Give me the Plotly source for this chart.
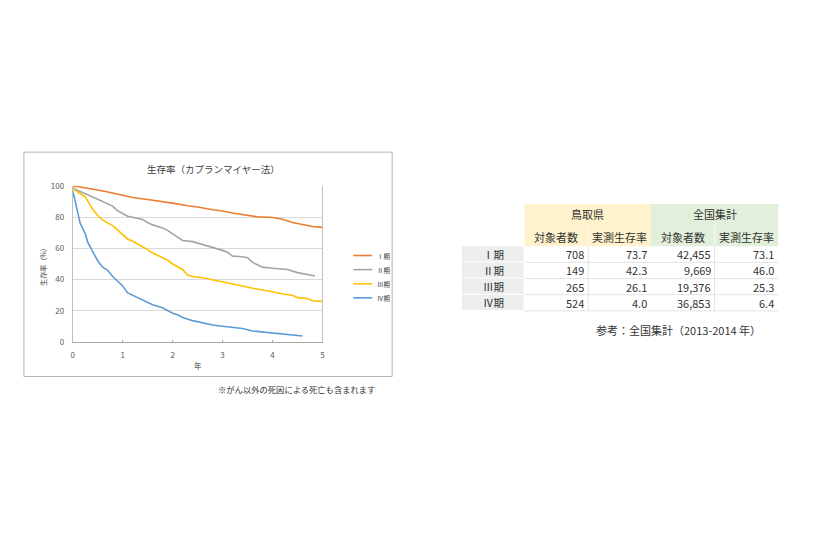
import plotly.graph_objects as go

JP = "Noto Sans CJK JP"
W, H = 830, 545
OFF = 8  # page body margin

# survival curves (years, %)
years_1 = [0, 0.2, 0.5, 0.8, 1.0, 1.2, 1.5, 1.8, 2.0, 2.3, 2.5, 2.8, 3.0, 3.2, 3.5, 3.7, 4.0, 4.2, 4.4, 4.6, 4.8, 5.0]
surv_1 = [100, 99, 97.3, 95.4, 94.1, 92.5, 91.2, 89.9, 88.9, 87.2, 86.4, 84.7, 83.9, 82.6, 81.3, 80.1, 79.7, 78.6, 76.5, 75.1, 74.0, 73.4]

years_2 = [0, 0.1, 0.3, 0.4, 0.5, 0.6, 0.8, 0.9, 1.0, 1.1, 1.2, 1.4, 1.5, 1.6, 1.8, 1.9, 2.0, 2.1, 2.2,
           2.4, 2.6, 2.8, 3.0, 3.1, 3.2, 3.4, 3.5, 3.6, 3.7, 3.8, 4.0, 4.2, 4.3, 4.5, 4.7, 4.85]
surv_2 = [99, 97, 94.3, 93, 91.2, 90, 87, 84, 82.3, 80.5, 79.9, 78.4, 76.5, 75, 73, 71.5, 69.2, 67, 65,
          64.3, 62.5, 61, 58.7, 57.5, 55, 54.6, 54, 51, 49.5, 48, 47.3, 47, 46.5, 44.5, 43.2, 42.3]

years_3 = [0, 0.1, 0.25, 0.3, 0.4, 0.5, 0.6, 0.8, 1.0, 1.1, 1.2, 1.3, 1.4, 1.5, 1.6, 1.8, 1.9, 2.0, 2.1,
           2.2, 2.3, 2.4, 2.6, 2.8, 3.0, 3.2, 3.4, 3.6, 3.8, 4.0, 4.2, 4.4, 4.5, 4.7, 4.8, 5.0]
surv_3 = [98.5, 96, 93, 90, 85, 81, 78, 74.5, 69, 66, 64.5, 63, 61, 59, 57, 54, 52.5, 50, 48.5,
          46.5, 43, 42, 41.2, 40, 38.5, 37.5, 36, 34.5, 33.5, 32.3, 30.8, 30.0, 28.5, 28, 26.5, 26.1]

years_4 = [0, 0.05, 0.1, 0.15, 0.25, 0.3, 0.4, 0.5, 0.6, 0.7, 0.8, 0.9, 1.0, 1.1, 1.2, 1.3, 1.4, 1.5, 1.6,
           1.8, 2.0, 2.1, 2.2, 2.4, 2.6, 2.8, 3.0, 3.2, 3.4, 3.6, 3.8, 4.0, 4.2, 4.4, 4.6]
surv_4 = [97, 90, 82, 76, 69.5, 64, 58, 52, 48, 46, 42, 39, 36, 31.5, 30, 28.5, 27, 25.5, 24,
          22, 18.5, 17.5, 15.8, 13.8, 12.3, 11, 10.2, 9.5, 8.8, 7.2, 6.5, 5.8, 5.3, 4.8, 4.0]

stages = ["Ⅰ期", "Ⅱ期", "Ⅲ期", "Ⅳ期"]
colors = ["#ED7D31", "#A5A5A5", "#FFC000", "#5B9BD5"]

# table values
tottori_n = [708, 149, 265, 524]
tottori_rate = [73.7, 42.3, 26.1, 4.0]
national_n = [42455, 9669, 19376, 36853]
national_rate = [73.1, 46.0, 25.3, 6.4]


def fx(x):
    return (x - OFF) / W


def fy(y):
    return 1 - (y - OFF) / H


def label(text, x, y, size, color="#333333", **kw):
    d = dict(text=text, x=fx(x), y=fy(y), xref="paper", yref="paper", showarrow=False,
             xanchor="center", yanchor="middle", font=dict(size=size, color=color, family=JP))
    d.update(kw)
    return d


fig = go.Figure()
for xs, ys, name, c in zip([years_1, years_2, years_3, years_4],
                           [surv_1, surv_2, surv_3, surv_4], stages, colors):
    fig.add_trace(go.Scatter(x=xs, y=ys, mode="lines", name=name,
                             line=dict(color=c, width=1.6), hoverinfo="skip"))

shapes = []
annots = []

# chart frame
shapes.append(dict(type="rect", xref="paper", yref="paper", x0=fx(22), x1=fx(392),
                   y0=fy(378), y1=fy(149), line=dict(color="#b4b4b4", width=1)))

annots.append(label("生存率（カプランマイヤー法）", 212, 166, 9.5, "#404040"))
annots.append(label("生存率（%）", 41, 264, 7, "#404040", textangle=-90))
annots.append(label("年", 197, 367, 7.5, "#404040"))
annots.append(label("※がん以外の死因による死亡も含まれます", 296, 391, 8.3))

# legend key
for i, (st, c) in enumerate(zip(stages, colors)):
    ly = 254.5 + 14.4 * i
    shapes.append(dict(type="line", xref="paper", yref="paper", x0=fx(353), x1=fx(372),
                       y0=fy(ly), y1=fy(ly), line=dict(color=c, width=1.6)))
    annots.append(label(st, 375, ly, 6.5, "#404040", xanchor="left"))

# ---- table ----
cols = [462, 525, 589, 652, 716, 780]
rows = [202, 223, 245, 261.5, 278, 294.5, 311]
head_fill = ["#FFF2CC", "#E2EFDA"]

for g in range(2):
    shapes.append(dict(type="rect", xref="paper", yref="paper", x0=fx(cols[1 + 2 * g]), x1=fx(cols[3 + 2 * g]),
                       y0=fy(rows[2]), y1=fy(rows[0]), fillcolor=head_fill[g], line=dict(width=0), layer="below"))
# row header fills
for i in range(4):
    shapes.append(dict(type="rect", xref="paper", yref="paper", x0=fx(cols[0]), x1=fx(cols[1] - 1),
                       y0=fy(rows[3 + i] - 1), y1=fy(rows[2 + i]), fillcolor="#EDEDED", line=dict(width=0),
                       layer="below"))
# horizontal lines between data rows
for i in range(4):
    yy = rows[3 + i]
    shapes.append(dict(type="line", xref="paper", yref="paper", x0=fx(cols[1]), x1=fx(cols[5]),
                       y0=fy(yy), y1=fy(yy), line=dict(color="#E3E3E3", width=1)))
# vertical separators
for xc in [cols[2], cols[4]]:
    shapes.append(dict(type="line", xref="paper", yref="paper", x0=fx(xc), x1=fx(xc),
                       y0=fy(rows[6]), y1=fy(rows[2]), line=dict(color="#E3E3E3", width=1)))
    shapes.append(dict(type="line", xref="paper", yref="paper", x0=fx(xc), x1=fx(xc),
                       y0=fy(rows[2]), y1=fy(rows[1]), line=dict(color="#FAFAFA", width=1)))

for g, name in enumerate(["鳥取県", "全国集計"]):
    annots.append(label(name, (cols[1 + 2 * g] + cols[3 + 2 * g]) / 2, 212.5, 11))
    for k, sub in enumerate(["対象者数", "実測生存率"]):
        annots.append(label(sub, (cols[1 + 2 * g + k] + cols[2 + 2 * g + k]) / 2, 236, 11))

for i, st in enumerate(stages):
    yc = (rows[2 + i] + rows[3 + i]) / 2
    annots.append(label(st, 494, yc, 10.5))
    vals = [f"{tottori_n[i]:,}", f"{tottori_rate[i]:.1f}", f"{national_n[i]:,}", f"{national_rate[i]:.1f}"]
    for k, v in enumerate(vals):
        annots.append(label(v, cols[2 + k] - 2, yc, 11, xanchor="right"))

annots.append(label("参考：全国集計（2013-2014 年）", 680, 331, 11))

fig.update_layout(
    width=W, height=H,
    margin=dict(l=0, r=0, t=0, b=0),
    paper_bgcolor="white", plot_bgcolor="white",
    font=dict(family=JP, color="#595959"),
    showlegend=False,
    xaxis=dict(domain=[fx(71), fx(322)], range=[0, 5], dtick=1, showgrid=False, zeroline=False,
               showline=True, linecolor="#A6A6A6", ticks="inside", ticklen=2, tickcolor="#A6A6A6",
               ticklabelstandoff=5, tickfont=dict(size=8, color="#595959")),
    yaxis=dict(domain=[fy(343), fy(183.3)], range=[0, 100], dtick=20, showgrid=True, gridcolor="#D9D9D9",
               zeroline=False, showline=True, linecolor="#BFBFBF", mirror=True, ticks="",
               ticklabelstandoff=6, tickfont=dict(size=8, color="#595959")),
    shapes=shapes,
    annotations=annots,
)

fig.write_html("out.html")
